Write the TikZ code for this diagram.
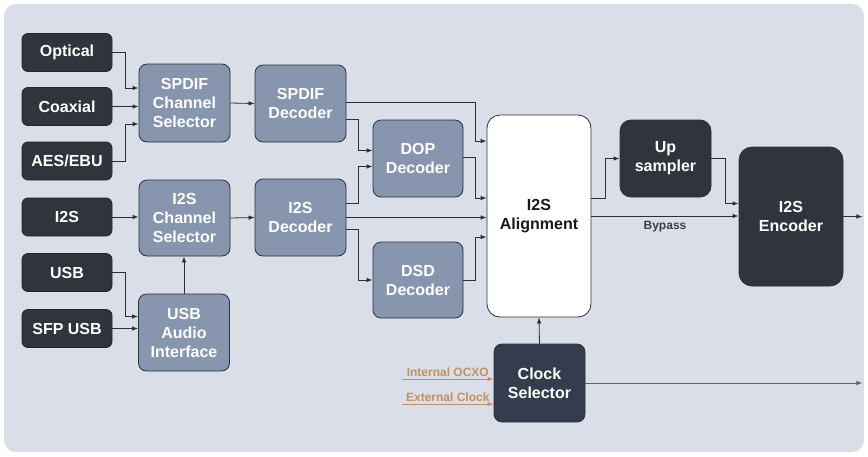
\documentclass[tikz,border=0pt]{standalone}
\usepackage{fontspec}
\setmainfont{Liberation Sans}
\usetikzlibrary{arrows.meta,calc}
\definecolor{panel}{HTML}{D9DEE8}
\definecolor{ink}{HTML}{2B2F36}
\definecolor{darkfill}{HTML}{30353D}
\definecolor{clockfill}{HTML}{333D4D}
\definecolor{midfill}{HTML}{8796AE}
\definecolor{tan}{HTML}{C0925F}
\definecolor{wire}{HTML}{5A6270}
\tikzset{
  >={Latex[length=6pt,width=4.5pt]},
  every node/.style={font=\fontsize{16}{19}\selectfont\bfseries,text=white},
  blk/.style={draw=ink,line width=0.8pt,rounded corners=8pt,align=center,minimum width=91pt,minimum height=77pt,inner sep=2pt},
  inbox/.style={blk,fill=darkfill,draw=black!85,rounded corners=6pt,minimum width=90pt,minimum height=38pt},
  midbox/.style={blk,fill=midfill},
  darkbox/.style={blk,fill=darkfill,rounded corners=11pt},
  clockbox/.style={blk,fill=clockfill},
  alignbox/.style={blk,fill=white,text=black!90,rounded corners=13pt,minimum width=104pt,minimum height=202pt},
  arrow/.style={->,line width=0.8pt,draw=ink},
  clockarr/.style={->,line width=1pt,draw=tan},
  outarr/.style={->,line width=1pt,draw=wire},
  label/.style={font=\fontsize{12}{14}\selectfont\bfseries,inner sep=1.5pt},
}

\begin{document}
\begin{tikzpicture}[x=1pt,y=-1pt]
  \useasboundingbox (0,0) rectangle (868,456);
  \fill[panel,rounded corners=12pt] (4,4) rectangle (864,452);
  % inputs
  \node[inbox] (optical) at (67,52.5) {Optical};
  \node[inbox] (coax) at (67,106.5) {Coaxial};
  \node[inbox] (aes) at (67,161) {AES/EBU};
  \node[inbox] (i2sin) at (67,217) {I2S};
  \node[inbox] (usb) at (67,272.5) {USB};
  \node[inbox] (sfp) at (67,328.5) {SFP USB};
  % selectors and decoders
  \node[midbox,minimum height=78pt] (spdifsel) at (184.5,103) {SPDIF\\Channel\\Selector};
  \node[midbox,minimum height=76pt] (i2ssel) at (184.5,218) {I2S\\Channel\\Selector};
  \node[midbox] (usbaudio) at (184,332.5) {USB\\Audio\\Interface};
  \node[midbox] (spdifdec) at (300.5,103.5) {SPDIF\\Decoder};
  \node[midbox] (i2sdec) at (300.5,217.5) {I2S\\Decoder};
  \node[midbox,minimum width=90pt] (dop) at (418,158.5) {DOP\\Decoder};
  \node[midbox,minimum width=90pt,minimum height=76pt] (dsd) at (418,280) {DSD\\Decoder};
  % core
  \node[alignbox] (align) at (539,216) {I2S\\Alignment};
  \node[darkbox] (upsamp) at (665.5,158.5) {Up\\sampler};
  \node[darkbox,minimum width=104pt,minimum height=139pt,rounded corners=13pt] (enc) at (791,216.5) {I2S\\Encoder};
  \node[clockbox,minimum height=78pt] (clock) at (539.5,383) {Clock\\Selector};
  \coordinate (ocxoin) at (402,379);
  \coordinate (extin) at (402,404);
  % input wiring
  \draw[arrow] (optical.east) -- ++(13,0) |- ([shift={(0,-15)}]spdifsel.west);
  \draw[arrow] (coax.east) -- (coax.east -| spdifsel.west);
  \draw[arrow] (aes.east) -- ++(13,0) |- ([shift={(0,21)}]spdifsel.west);
  \draw[arrow] (i2sin.east) -- (i2sin.east -| i2ssel.west);
  \draw[arrow] (usb.east) -- ++(13,0) |- ([shift={(0,-16)}]usbaudio.west);
  \draw[arrow] (sfp.east) -- (sfp.east -| usbaudio.west);
  \draw[arrow] (usbaudio.north) -- (usbaudio.north |- i2ssel.south);
  \draw[arrow] (spdifsel.east) -- (spdifdec.west);
  \draw[arrow] (i2ssel.east) -- (i2sdec.west);
  % decoder wiring
  \draw[arrow] ([shift={(0,-1)}]spdifdec.east) -- ++(129,0) |- ([shift={(0,-75)}]align.west);
  \draw[arrow] ([shift={(0,16)}]spdifdec.east) -- ++(12,0) |- ([shift={(0,-8)}]dop.west);
  \draw[arrow] ([shift={(0,-14)}]i2sdec.east) -- ++(12,0) |- ([shift={(0,8)}]dop.west);
  \draw[arrow] (i2sdec.east) -- (i2sdec.east -| align.west);
  \draw[arrow] ([shift={(0,12)}]i2sdec.east) -- ++(12,0) |- (dsd.west);
  \draw[arrow] ([shift={(0,-1)}]dop.east) -- ++(12,0) |- ([shift={(0,-18)}]align.west);
  \draw[arrow] (dsd.east) -- ++(12,0) |- ([shift={(0,21)}]align.west);
  % output wiring
  \draw[arrow] ([shift={(0,-18)}]align.east) -- ++(14,0) |- (upsamp.west);
  \draw[arrow] (align.east) -- node[label,below=3pt,text=black!75]{Bypass} (align.east -| enc.west);
  \draw[arrow] (upsamp.east) -- ++(14,0) |- ([shift={(0,-13)}]enc.west);
  \draw[arrow] (enc.east) -- ++(19,0);
  % clock
  \draw[arrow] (clock.north) -- (align.south);
  \draw[clockarr] (ocxoin) -- node[label,above,text=tan]{Internal OCXO} (ocxoin -| clock.west);
  \draw[clockarr] (extin) -- node[label,above,text=tan]{External Clock} (extin -| clock.west);
  \draw[outarr] (clock.east) -- ++(277,0);
\end{tikzpicture}
\end{document}
